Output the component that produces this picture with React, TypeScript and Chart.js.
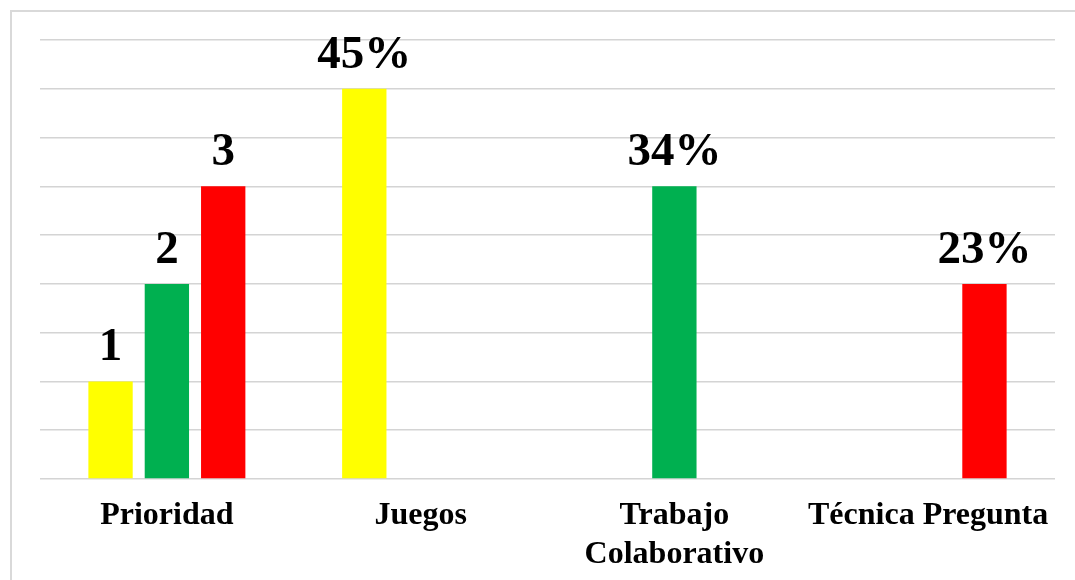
import React, { useEffect, useRef } from "react";
import { Chart, registerables } from "chart.js";

Chart.register(...registerables);

const categories: (string | string[])[] = [
  "Prioridad",
  "Juegos",
  ["Trabajo", "Colaborativo"],
  "Técnica Pregunta",
];

const yellowValues: (number | null)[] = [1, 4, null, null];
const greenValues: (number | null)[] = [2, null, 3, null];
const redValues: (number | null)[] = [3, null, null, 2];

const yellowLabels: (string | null)[] = ["1", "45%", null, null];
const greenLabels: (string | null)[] = ["2", null, "34%", null];
const redLabels: (string | null)[] = ["3", null, null, "23%"];

const yTicks = { min: 0, max: 4.5, step: 0.5 };

const FONT = "'Liberation Serif', 'Times New Roman', serif";

const dataLabelPlugin = {
  id: "dataLabelPlugin",
  afterDatasetsDraw(chart: any) {
    const ctx = chart.ctx;
    const allLabels = [yellowLabels, greenLabels, redLabels];
    ctx.save();
    ctx.font = `bold 47px ${FONT}`;
    ctx.fillStyle = "#000000";
    ctx.textAlign = "center";
    ctx.textBaseline = "alphabetic";
    chart.data.datasets.forEach((_ds: any, di: number) => {
      const meta = chart.getDatasetMeta(di);
      meta.data.forEach((el: any, i: number) => {
        const txt = allLabels[di][i];
        if (txt == null) return;
        ctx.fillText(txt, el.x, el.y - 21);
      });
    });
    ctx.restore();
  },
};

export default function App() {
  const canvasRef = useRef<HTMLCanvasElement | null>(null);

  useEffect(() => {
    if (!canvasRef.current) return;
    const chart = new Chart(canvasRef.current, {
      type: "bar",
      data: {
        labels: categories,
        datasets: [
          { label: "1", data: yellowValues, backgroundColor: "#FFFF00" },
          { label: "2", data: greenValues, backgroundColor: "#00B050" },
          { label: "3", data: redValues, backgroundColor: "#FF0000" },
        ],
      },
      options: {
        animation: false,
        responsive: false,
        maintainAspectRatio: false,
        devicePixelRatio: 1,
        layout: { padding: { top: 40, left: 40, right: 20, bottom: 0 } },
        datasets: {
          bar: { categoryPercentage: 0.666, barPercentage: 0.787 },
        },
        plugins: {
          legend: { display: false },
          tooltip: { enabled: false },
          title: { display: false },
        },
        scales: {
          x: {
            grid: { display: false, drawTicks: false },
            border: { display: false },
            ticks: {
              color: "#000000",
              font: { family: FONT, size: 32, weight: "bold", lineHeight: 1.2 },
              padding: 18,
              maxRotation: 0,
              minRotation: 0,
              autoSkip: false,
            },
            afterFit: (scale: any) => {
              scale.height = 101;
            },
          },
          y: {
            min: yTicks.min,
            max: yTicks.max,
            ticks: { display: false, stepSize: yTicks.step },
            grid: { color: "#D4D4D4", lineWidth: 1.5, drawTicks: false },
            border: { display: false },
            afterFit: (scale: any) => {
              scale.width = 0;
            },
          },
        },
      },
      plugins: [dataLabelPlugin],
    });
    return () => chart.destroy();
  }, []);

  return (
    <div
      style={{
        position: "fixed",
        left: 0,
        top: 0,
        width: 1075,
        height: 580,
        overflow: "hidden",
        background: "#ffffff",
      }}
    >
      <div
        style={{
          position: "absolute",
          left: 10,
          top: 10,
          width: 1100,
          height: 620,
          border: "2px solid #D9D9D9",
          boxSizing: "border-box",
        }}
      />
      <canvas
        ref={canvasRef}
        width={1075}
        height={580}
        style={{ position: "absolute", left: 0, top: 0, width: 1075, height: 580 }}
      />
    </div>
  );
}
